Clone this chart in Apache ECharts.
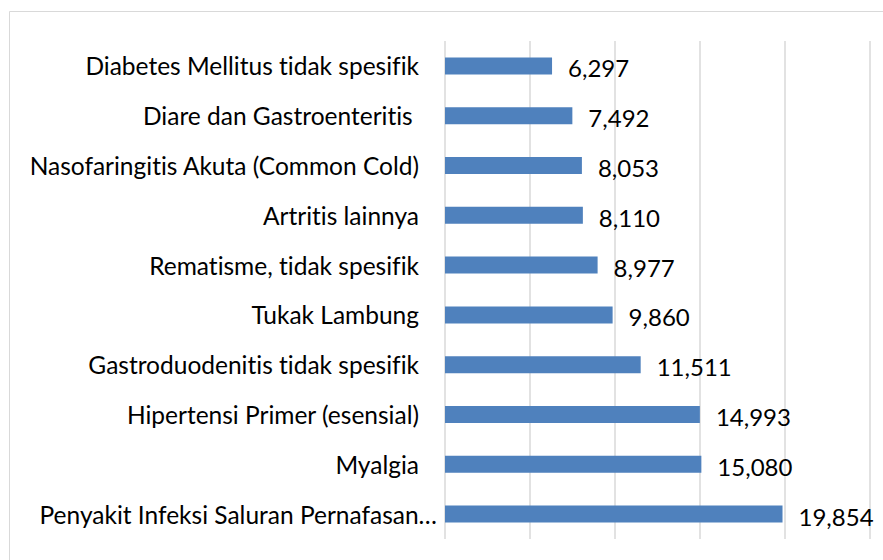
<!DOCTYPE html>
<html>
<head>
<meta charset="utf-8">
<style>
  html, body { margin: 0; padding: 0; background: #fff; }
  #chart { width: 883px; height: 560px; }
  #chart text { font-variant-ligatures: none; font-feature-settings: "liga" 0; }
</style>
<script src="https://cdn.jsdelivr.net/npm/echarts@6/dist/echarts.min.js"></script>
</head>
<body>
<div id="chart"></div>
<script>
// Disease categories, listed top to bottom
const categories = [
  'Diabetes Mellitus tidak spesifik',
  'Diare dan Gastroenteritis ',
  'Nasofaringitis Akuta (Common Cold)',
  'Artritis lainnya',
  'Rematisme, tidak spesifik',
  'Tukak Lambung',
  'Gastroduodenitis tidak spesifik',
  'Hipertensi Primer (esensial)',
  'Myalgia',
  'Penyakit Infeksi Saluran Pernafasan…'
];
// Number of cases per category
const cases = [6297, 7492, 8053, 8110, 8977, 9860, 11511, 14993, 15080, 19854];
// Value axis range
const axisMax = 25000;
const axisStep = 5000;

const fontFamily = 'Lato, "Open Sans", sans-serif';
// Shortened (ellipsis) labels sit closer to the axis than full ones
const categoryItems = categories.map(name => ({
  value: name,
  textStyle: { padding: [0, name.endsWith('…') ? 0 : 18, 0, 0] }
}));

const chart = echarts.init(document.getElementById('chart'), null, { renderer: 'svg' });
chart.setOption({
  animation: false,
  backgroundColor: '#ffffff',
  graphic: [{
    type: 'rect',
    shape: { x: 9.5, y: 11.5, width: 900, height: 600 },
    style: { fill: 'none', stroke: '#d9d9d9', lineWidth: 1 },
    silent: true
  }],
  grid: { left: 445, right: 13, top: 41, bottom: 21, containLabel: false },
  xAxis: {
    type: 'value',
    min: 0,
    max: axisMax,
    interval: axisStep,
    axisLabel: { show: false },
    axisLine: { show: false },
    axisTick: { show: false },
    splitLine: { show: true, lineStyle: { color: '#d9d9d9', width: 1.5 } }
  },
  yAxis: {
    type: 'category',
    data: categoryItems,
    inverse: true,
    axisLine: { show: false },
    axisTick: { show: false },
    axisLabel: {
      margin: 8,
      color: '#000',
      fontSize: 24.5,
      fontFamily: fontFamily
    }
  },
  series: [{
    type: 'bar',
    data: cases,
    barWidth: 17,
    itemStyle: { color: '#4f81bd' },
    label: {
      show: true,
      position: 'right',
      distance: 16,
      offset: [0, 2],
      color: '#000',
      fontSize: 24,
      fontFamily: fontFamily,
      formatter: p => p.value.toLocaleString('en-US')
    }
  }]
});
</script>
</body>
</html>
